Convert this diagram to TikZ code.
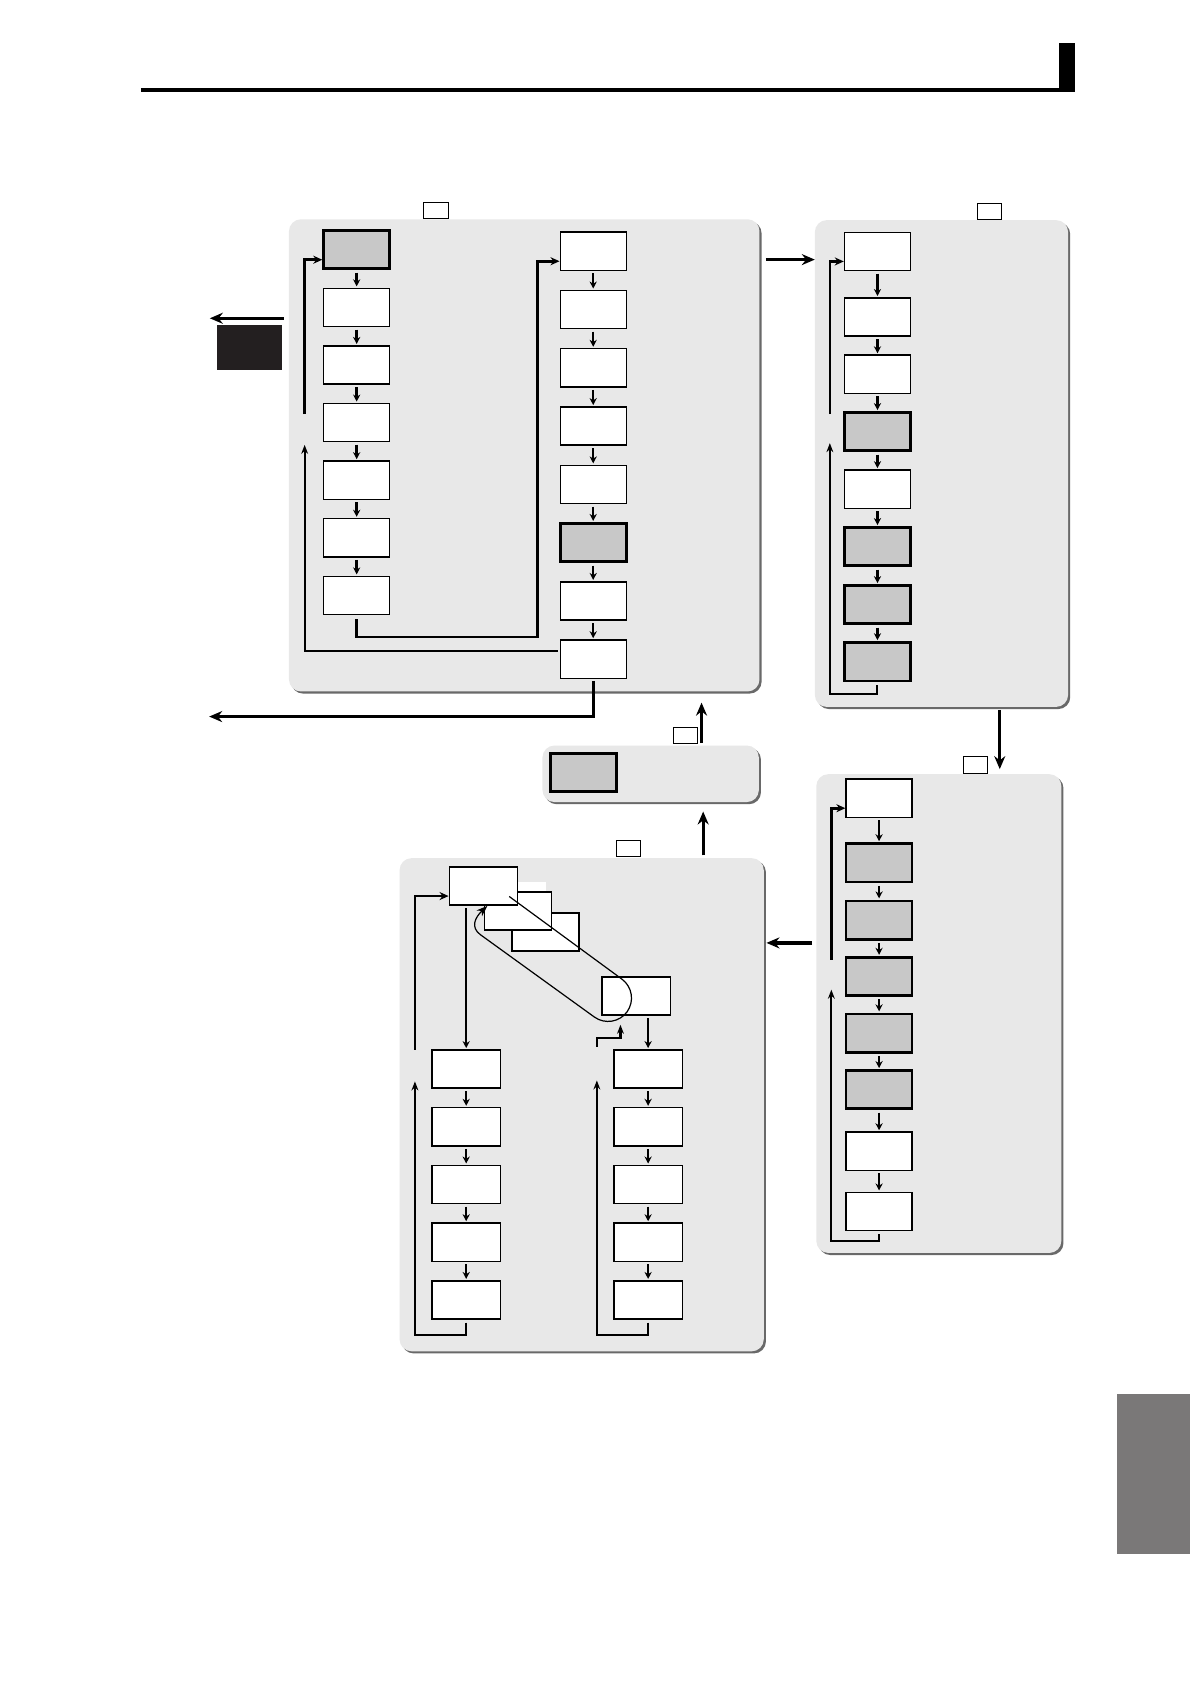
\documentclass[tikz,border=0pt]{standalone}
\usepackage{tikz}
\usetikzlibrary{arrows.meta}
\definecolor{panelfill}{RGB}{232,232,232}
\definecolor{boxgray}{RGB}{200,200,200}
\definecolor{tabgray}{RGB}{122,120,120}
\definecolor{keyblack}{RGB}{35,31,32}
\definecolor{shadegray}{RGB}{105,105,105}
\newcommand{\panelbox}[4]{%
  \fill[shadegray,rounded corners=6pt] (#1+2,#2+2) rectangle (#3+2,#4+2);
  \fill[panelfill,rounded corners=6pt] (#1,#2) rectangle (#3,#4);}
\begin{document}
\begin{tikzpicture}[x=0.5365pt,y=-0.5365pt,
    bx/.style={draw,fill=white,line width=0.7pt,minimum width=33pt,minimum height=19.1pt,inner sep=0pt},
    gbx/.style={bx,fill=boxgray,line width=1.4pt},
    wbx/.style={bx,minimum width=34.1pt},
    tag/.style={draw,fill=white,line width=0.5pt,minimum width=12.1pt,minimum height=8.2pt,inner sep=0pt},
    dn/.style={-{Stealth[length=3.5pt,width=3.6pt]},line width=1.2pt,shorten <=1.2pt,shorten >=0.6pt},
    fb/.style={-{Stealth[length=4.5pt,width=3.4pt]},line width=1pt,shorten <=1.5pt},
    ret/.style={-{Stealth[length=4.5pt,width=4pt]},line width=1.3pt},
    big/.style={-{Stealth[length=6.5pt,width=5.5pt]},line width=1.6pt}]
\fill[white] (0,0) rectangle (1109,1568);
\useasboundingbox (0,0) rectangle (1109,1568);
% page head and tab
\draw[line width=2.15pt] (131.4,83.7) -- (1002.5,83.7);
\fill (987.6,39.8) rectangle (1002.5,85.7);
\fill[tabgray] (1041.7,1299.2) rectangle (1109,1449);

\panelbox{269.4}{204.4}{708}{644.6}
\panelbox{759.6}{205.2}{995.7}{659}
\panelbox{761}{721.7}{989.4}{1168}
\panelbox{372.5}{800}{712}{1259.7}
\panelbox{505.7}{695}{707.4}{747.7}

\node[tag] (t1) at (406.4,196.2) {};
\node[tag] (t2) at (922.2,196.9) {};
\node[tag] (t3) at (909.2,713) {};
\node[tag] (t4) at (585.8,791) {};
\node[tag] (t5) at (638.9,685.4) {};

\node[fill=keyblack,minimum width=32.7pt,minimum height=22.3pt,inner sep=0pt] (key) at (232.8,323.7) {};

\foreach \i/\s in {1/gbx,2/bx,3/bx,4/bx,5/bx,6/bx,7/bx}
  \node[\s] (l\i) at (332.5,{232.8+53.7*(\i-1)}) {};
\foreach \i/\s in {1/bx,2/bx,3/bx,4/bx,5/bx,6/gbx,7/bx,8/bx}
  \node[\s] (r\i) at (553,{234.2+54.33*(\i-1)}) {};
\foreach \i/\y/\s in {1/234.4/bx,2/295.5/bx,3/348.9/bx,4/402.5/gbx,5/456/bx,6/509.7/gbx,7/563.8/gbx,8/617/gbx}
  \node[\s] (q\i) at (818,\y) {};
\foreach \i/\y/\s in {1/744.1/bx,2/804.4/gbx,3/857.7/gbx,4/910.3/gbx,5/963/gbx,6/1015.9/gbx,7/1073.2/bx,8/1129.3/bx}
  \node[\s] (s\i) at (819.5,\y) {};
\foreach \i in {1,...,5}{
  \node[wbx] (lc\i) at (434.6,{996.6+53.8*(\i-1)}) {};
  \node[wbx] (rc\i) at (604.2,{996.6+53.8*(\i-1)}) {};
}
\node[gbx] (E) at (543.7,720.2) {};

% stacked boxes and loop
\node[wbx,minimum width=33.5pt] (C) at (508.7,868.9) {};
\fill[white] (482.4,822.6) rectangle (508.9,831.6);
\node[wbx,minimum width=33.7pt] (B) at (482.8,849.3) {};
\node[wbx] (A) at (450.6,826) {};
\node[wbx] (D) at (593,928.5) {};

\foreach \i [count=\j from 2] in {1,...,6} \draw[dn] (l\i) -- (l\j);
\foreach \i [count=\j from 2] in {1,...,7}{
  \draw[dn] (r\i) -- (r\j);
  \draw[dn] (q\i) -- (q\j);
  \draw[dn] (s\i) -- (s\j);
}
\foreach \i [count=\j from 2] in {1,...,4}{
  \draw[dn] (lc\i) -- (lc\j);
  \draw[dn] (rc\i) -- (rc\j);
}

% panel 1
\coordinate (j1) at (501,594);
\draw[ret,shorten <=2pt] (l7.south) |- (j1) |- ([yshift=-5pt]r1.west);
\coordinate (f1) at (284,414.7);
\coordinate (f2) at (284,386);
\draw[fb,shorten <=1pt] ([yshift=4pt]r8.west) -| (f1);
\draw[ret] (f2) |- ([yshift=-5pt]l1.west);
\coordinate (x1) at (195,668);
\draw[big,shorten <=1pt] (r8.south) |- (x1);
\coordinate (e0) at (264.4,296.7);
\coordinate (e1) at (195.6,296.7);
\draw[big] (e0) -- (e1);
\coordinate (h0) at (714,242);
\coordinate (h1) at (759.6,242);
\draw[big] (h0) -- (h1);

% panel 2
\coordinate (g1) at (773.6,647.4);
\coordinate (g2) at (773.6,413.1);
\coordinate (g3) at (773.6,386);
\draw[fb] (q8.south) |- (g1) -- (g2);
\draw[ret] (g3) |- ([yshift=-5pt]q1.west);
\coordinate (v0) at (932,661.7);
\coordinate (v1) at (932,717);
\draw[big] (v0) -- (v1);

% panel 3
\coordinate (k1) at (775,1156.6);
\coordinate (k2) at (775,922.6);
\coordinate (k3) at (775,894.7);
\draw[fb] (s8.south) |- (k1) -- (k2);
\draw[ret] (k3) |- ([yshift=-5pt]s1.west);
\coordinate (w0) at (757,879);
\coordinate (w1) at (714.5,879);
\draw[big] (w0) -- (w1);

% panel 4
\coordinate (m0) at (386.8,978.6);
\draw[ret] (m0) |- ([yshift=-5pt]A.west);
\draw[dn] (A.south -| lc1) -- (lc1);
\draw[dn] (D.south -| rc1) -- (rc1);
\coordinate (m1) at (386.8,1244.8);
\coordinate (m2) at (386.8,1008.1);
\draw[fb] (lc5.south) |- (m1) -- (m2);
\coordinate (n1) at (556.4,1244.8);
\coordinate (n2) at (556.4,1007.2);
\draw[fb] (rc5.south) |- (n1) -- (n2);
\coordinate (n3) at (556.4,978.6);
\coordinate (n4) at (578.4,967.7);
\coordinate (n5) at (578.4,955.3);
\draw[fb,line width=1.3pt] (n3) |- (n4) -- (n5);
\coordinate (lp0) at (474.7,835.7);
\draw[line width=0.6pt,-{Stealth[length=5.5pt,width=4pt]}] (lp0) -- (579.7,912.7)
  .. controls (589.4,919.8) and (591.6,933.4) .. (584.6,943.2)
  .. controls (577.5,952.9) and (563.9,955.1) .. (554.1,948.1)
  -- (447.8,871.3) .. controls (438.3,864.4) and (443,855) .. ([xshift=2pt]A.south);

% between panels
\coordinate (u0) at (655.5,797.5);
\coordinate (u1) at (655.5,756.5);
\draw[big] (u0) -- (u1);
\coordinate (u2) at (654,692.8);
\coordinate (u3) at (654,655);
\draw[big] (u2) -- (u3);
\end{tikzpicture}
\end{document}
